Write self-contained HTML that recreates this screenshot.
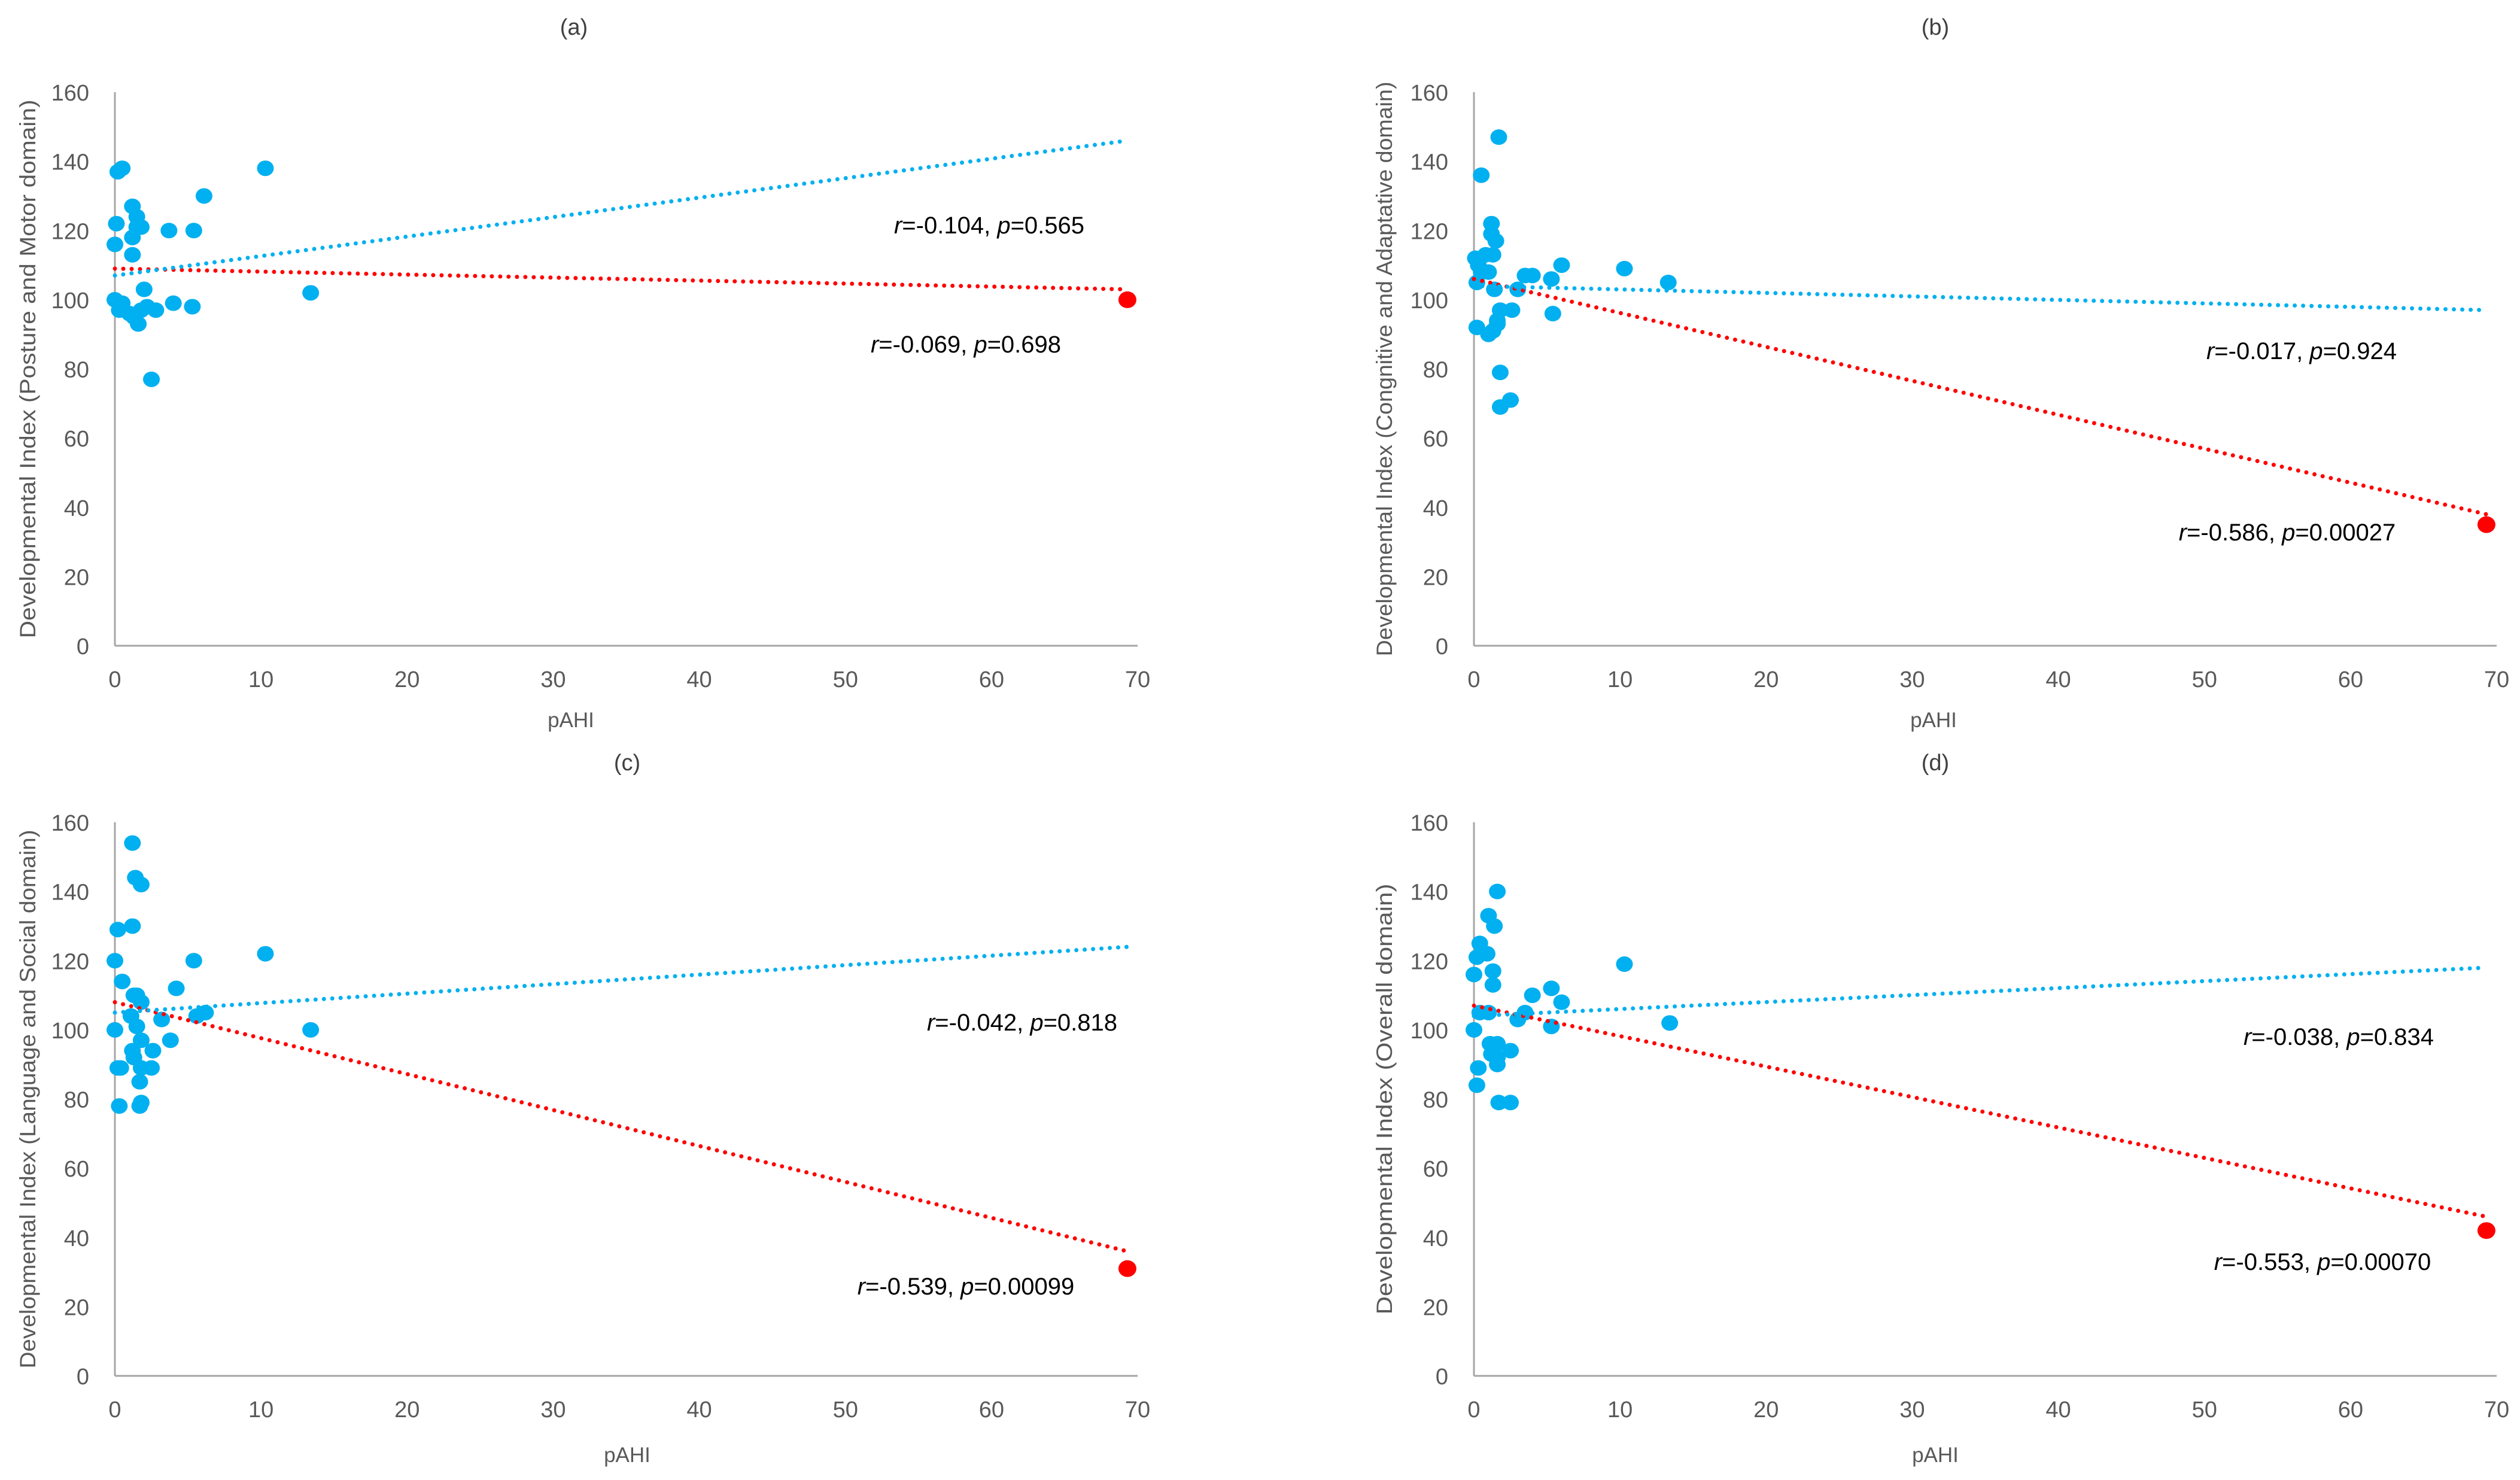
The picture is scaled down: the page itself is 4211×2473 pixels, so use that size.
<!DOCTYPE html>
<html><head><meta charset="utf-8">
<style>
html,body{margin:0;padding:0;background:#fff;}
svg{display:block;font-family:"Liberation Sans",sans-serif;}
</style></head>
<body>
<svg id="fig" width="4211" height="2473" viewBox="0 0 4211 2473" xmlns="http://www.w3.org/2000/svg"></svg>
<script>
const yTicks = [0,20,40,60,80,100,120,140,160];
const xTicks = [0,10,20,30,40,50,60,70];
const panelLabels = ['(a)','(b)','(c)','(d)'];
const yTitles = ['Developmental Index (Posture and Motor domain)','Developmental Index (Congnitive and Adaptative domain)','Developmental Index (Language and Social domain)','Developmental Index (Overall domain)'];
const aX = [0.2,0.5,0.1,0,1.2,1.5,1.5,1.8,1.2,1.2,0,0.3,0.5,1,1.3,1.6,1.8,2,2.2,2.8,2.5,3.7,4,5.4,5.3,6.1,10.3,13.4];
const aY = [137,138,122,116,127,124,121,121,118,113,100,97,99,96,95,93,97,103,98,97,77,120,99,120,98,130,138,102];
const bX = [0.5,1.7,1.2,1.2,1.5,1.3,0.1,0.3,0.5,0.8,0.2,1,1.4,0.2,1,1.3,1.6,1.8,1.6,1.8,1.8,2.5,2.6,3,3.5,4,5.3,5.4,6,10.3,13.3];
const bY = [136,147,122,119,117,113,112,110,108,113,105,108,103,92,90,91,93,97,94,79,69,71,97,103,107,107,106,96,110,109,105];
const cX = [1.2,1.4,1.8,1.2,0.2,0,0.5,1.3,1.5,1.8,1.1,1.5,0,1.8,1.2,1.3,0.2,0.4,1.8,2.5,1.7,2.6,3.2,3.8,4.2,1.8,1.7,0.3,5.4,5.6,6.2,10.3,13.4];
const cY = [154,144,142,130,129,120,114,110,110,108,104,101,100,97,94,92,89,89,89,89,85,94,103,97,112,79,78,78,120,104,105,122,100];
const dX = [1.6,1,1.4,0.4,0.2,0.9,0,1.3,1.3,0.4,1,0,1.1,1.4,1.6,1.2,1.6,1.6,0.3,2.5,0.2,1.7,2.5,3,3.5,4,5.3,5.3,6,10.3,13.4];
const dY = [140,133,130,125,121,122,116,117,113,105,105,100,96,95,96,93,92,90,89,94,84,79,79,103,105,110,112,101,108,119,102];
const outlierX = [69.3,69.3,69.3,69.3];
const outlierY = [100,35,31,42];
const blueFit = [[107,146],[104,97],[105,124],[104,118]];
const redFit = [[109,103],[106,38],[108,36],[107,46]];
const blueText = ['-0.104|0.565','-0.017|0.924','-0.042|0.818','-0.038|0.834'];
const redText = ['-0.069|0.698','-0.586|0.00027','-0.539|0.00099','-0.553|0.00070'];

const NS='http://www.w3.org/2000/svg';
const svg=document.getElementById('fig');
function mk(tag,attrs,parent){const e=document.createElementNS(NS,tag);for(const k in attrs)e.setAttribute(k,attrs[k]);(parent||svg).appendChild(e);return e;}

const origins=[[192,1079],[2463,1079],[192,2299],[2463,2299]];
const W=1709,H=925;
const titlePos=[[959,58],[3234,58],[1048,1287],[3234,1287]];
const xtPos=[[954,1215],[3231,1215],[1048,2443],[3234,2443]];
const ytX=[46,2313,46,2313];
const ytLen=[900,960,900,720];
const blueTP=[[1653,390],[3846,600],[1708,1722],[3908,1746]];
const redTP=[[1614,589],[3822,903],[1614,2163],[3881,2122]];
const ptsX=[aX,bX,cX,dX], ptsY=[aY,bY,cY,dY];
const keys=['a','b','c','d'];

for(let p=0;p<4;p++){
  const [ox,oy]=origins[p];
  const sx=v=>ox+v/70*W;
  const sy=v=>oy-v/160*H;
  const g=mk('g',{});
  
  
  const t=mk('text',{x:titlePos[p][0],y:titlePos[p][1],'text-anchor':'middle','font-size':38,fill:'#404040'},g);
  t.textContent=panelLabels[p];
  
  
  const ya=mk('line',{x1:ox,y1:sy(160),x2:ox,y2:oy,stroke:'#A6A6A6','stroke-width':3},g);
  
  
  const xa=mk('line',{x1:ox,y1:oy,x2:sx(70),y2:oy,stroke:'#A6A6A6','stroke-width':3},g);
  
  
  yTicks.forEach(v=>{
    const e=mk('text',{x:ox-43,y:sy(v)+14,'text-anchor':'end','font-size':38,fill:'#595959'},g);
    e.textContent=v;
    
    
  });
  xTicks.forEach(v=>{
    const e=mk('text',{x:sx(v),y:oy+69,'text-anchor':'middle','font-size':38,fill:'#595959'},g);
    e.textContent=v;
    
    
  });
  const xt=mk('text',{x:xtPos[p][0],y:xtPos[p][1],'text-anchor':'middle','font-size':35,fill:'#595959'},g);
  xt.textContent='pAHI';
  
  
  const cy=(sy(160)+oy)/2;
  const yt=mk('text',{x:ytX[p],y:cy,'text-anchor':'middle','font-size':37,fill:'#595959',textLength:ytLen[p],lengthAdjust:'spacingAndGlyphs',transform:`rotate(-90 ${ytX[p]} ${cy})`,dy:13},g);
  yt.textContent=yTitles[p];
  
  
  ptsX[p].forEach((x,i)=>{
    const c=mk('ellipse',{cx:sx(x),cy:sy(ptsY[p][i]),rx:14,ry:13,fill:'#00B0F0'},g);
    
    
  });
  const o=mk('ellipse',{cx:sx(outlierX[p]),cy:sy(outlierY[p]),rx:15,ry:14,fill:'#FF0000'},g);
  
  
  const rl=mk('line',{x1:sx(0),y1:sy(redFit[p][0]),x2:sx(outlierX[p]),y2:sy(redFit[p][1]),stroke:'#FF0000','stroke-width':7,'stroke-linecap':'round','stroke-dasharray':'0 14'},g);
  
  
  const bl=mk('line',{x1:sx(0),y1:sy(blueFit[p][0]),x2:sx(outlierX[p]),y2:sy(blueFit[p][1]),stroke:'#00B0F0','stroke-width':7,'stroke-linecap':'round','stroke-dasharray':'0 14'},g);
  
  
  [[blueText[p],blueTP[p],'blue'],[redText[p],redTP[p],'red']].forEach(([s,pos,k])=>{
    const [r,pv]=s.split('|');
    const e=mk('text',{x:pos[0],y:pos[1],'text-anchor':'middle','font-size':40,fill:'#000'},g);
    e.innerHTML=`<tspan font-style="italic">r</tspan>=${r}, <tspan font-style="italic">p</tspan>=${pv}`;
    
    
  });
}
</script>
</body></html>
